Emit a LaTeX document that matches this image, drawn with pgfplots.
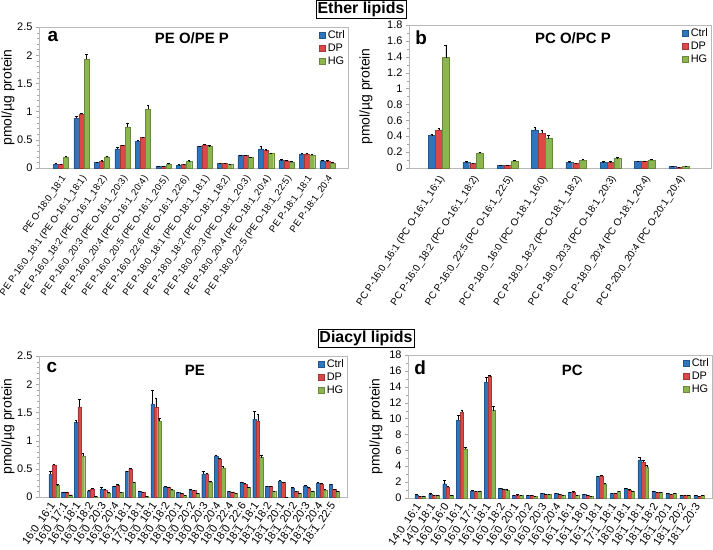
\documentclass[border=0pt]{standalone}
\usepackage{pgfplots}
\pgfplotsset{compat=1.18}
\usepackage{pgfplotstable}
\usepackage{fontspec}
\setmainfont{Liberation Sans}
\definecolor{cctrl}{RGB}{46,117,190}
\definecolor{cdp}{RGB}{218,72,72}
\definecolor{chg}{RGB}{140,181,80}

\pgfplotstableread{
x c ce d de h he
0 0.07 0.01 0.06 0.01 0.19 0.02
1 0.88 0.04 0.95 0.02 1.93 0.08
2 0.10 0.01 0.12 0.01 0.20 0.01
3 0.34 0.02 0.40 0.01 0.73 0.07
4 0.47 0.02 0.54 0.01 1.04 0.08
5 0.03 0.00 0.03 0.00 0.07 0.01
6 0.05 0.01 0.06 0.01 0.12 0.01
7 0.38 0.01 0.41 0.02 0.38 0.02
8 0.08 0.00 0.08 0.00 0.07 0.00
9 0.22 0.01 0.22 0.01 0.19 0.01
10 0.34 0.04 0.31 0.02 0.26 0.01
11 0.14 0.01 0.13 0.01 0.11 0.01
12 0.25 0.01 0.25 0.01 0.23 0.01
13 0.13 0.01 0.12 0.01 0.09 0.01
}\tA

\pgfplotstableread{
x c ce d de h he
0 0.41 0.01 0.48 0.02 1.39 0.16
1 0.07 0.01 0.06 0.00 0.19 0.01
2 0.03 0.01 0.03 0.01 0.09 0.01
3 0.48 0.03 0.44 0.03 0.37 0.04
4 0.07 0.01 0.06 0.00 0.10 0.01
5 0.07 0.01 0.07 0.01 0.12 0.01
6 0.08 0.00 0.08 0.00 0.10 0.01
7 0.02 0.00 0.005 0.00 0.02 0.00
}\tB

\pgfplotstableread{
x c ce d de h he
0 0.40 0.05 0.57 0.02 0.21 0.01
1 0.08 0.01 0.08 0.00 0.04 0.00
2 1.32 0.04 1.60 0.13 0.73 0.04
3 0.11 0.01 0.14 0.02 0.01 0.00
4 0.14 0.04 0.13 0.01 0.07 0.01
5 0.19 0.01 0.21 0.01 0.08 0.00
6 0.45 0.01 0.50 0.01 0.27 0.00
7 0.10 0.01 0.09 0.00 0.01 0.00
8 1.65 0.25 1.60 0.16 1.35 0.05
9 0.18 0.01 0.18 0.00 0.13 0.00
10 0.08 0.00 0.07 0.00 0.03 0.00
11 0.13 0.00 0.12 0.00 0.07 0.00
12 0.41 0.04 0.41 0.01 0.27 0.01
13 0.73 0.01 0.67 0.02 0.52 0.02
14 0.10 0.00 0.09 0.00 0.07 0.00
15 0.26 0.01 0.23 0.02 0.17 0.01
16 1.38 0.14 1.35 0.11 0.70 0.05
17 0.19 0.00 0.19 0.00 0.11 0.00
18 0.28 0.02 0.26 0.00 0.00 0.00
19 0.16 0.02 0.10 0.00 0.07 0.00
20 0.20 0.01 0.16 0.02 0.11 0.00
21 0.25 0.01 0.23 0.01 0.13 0.01
22 0.22 0.01 0.14 0.00 0.10 0.00
}\tC

\pgfplotstableread{
x c ce d de h he
0 0.4 0.05 0.2 0.02 0.2 0.02
1 0.5 0.05 0.3 0.02 0.3 0.02
2 1.8 0.4 1.4 0.1 0.3 0.05
3 9.8 0.6 10.8 0.3 6.2 0.2
4 0.9 0.05 0.85 0.05 0.85 0.05
5 14.6 0.6 15.3 0.1 11.0 0.5
6 1.2 0.05 1.1 0.05 1.0 0.05
7 0.35 0.03 0.4 0.03 0.3 0.02
8 0.35 0.03 0.35 0.02 0.25 0.02
9 0.6 0.05 0.5 0.03 0.5 0.03
10 0.6 0.05 0.5 0.03 0.3 0.02
11 0.7 0.05 0.75 0.05 0.35 0.02
12 0.45 0.03 0.35 0.02 0.25 0.02
13 2.7 0.1 2.8 0.1 1.8 0.1
14 0.6 0.03 0.6 0.03 0.8 0.03
15 1.2 0.05 1.0 0.05 0.85 0.05
16 4.8 0.3 4.5 0.2 3.9 0.2
17 0.8 0.03 0.7 0.03 0.7 0.03
18 0.55 0.03 0.5 0.03 0.55 0.03
19 0.35 0.02 0.3 0.02 0.35 0.02
20 0.3 0.02 0.25 0.02 0.3 0.02
}\tD

\tikzset{
  ttl/.style={font=\bfseries\fontsize{15}{18}\selectfont},
  box/.style={font=\bfseries\fontsize{16}{19}\selectfont},
  lbl/.style={font=\bfseries\fontsize{19}{22}\selectfont},
}
\pgfplotsset{
  panel/.style={
    scale only axis,
    ybar=0pt,
    ymin=0,
    axis line style={draw=gray!55},
    xtick=data,
    xtick style={draw=none},
    tick align=outside,
    ytick pos=left,
    ytick style={draw=gray!70},
    major tick length=3bp,
    minor tick length=2bp,
    yticklabel style={font=\fontsize{11}{12}\selectfont},
    /pgf/number format/assume math mode=true,
    ylabel={pmol/µg protein},
    ylabel style={font=\fontsize{14}{16}\selectfont},
    legend style={at={(1,1)}, anchor=north east, draw=none, fill=none,
      font=\fontsize{11}{12}\selectfont, row sep=0pt, inner sep=1pt},
    legend cell align=left,
    legend image code/.code={\fill[##1] (0bp,-3.2bp) rectangle (6.5bp,3.2bp);},
    clip=false,
  },
  ctrl/.style={fill=cctrl, draw=cctrl!75!black, line width=0.3pt},
  dp/.style={fill=cdp, draw=cdp!75!black, line width=0.3pt},
  hg/.style={fill=chg, draw=chg!75!black, line width=0.3pt},
  eb/.style={error bars/y dir=plus, error bars/y explicit,
    error bars/error bar style={black, line width=0.4pt},
    error bars/error mark options={black, rotate=90, mark size=1.3bp, line width=0.4pt}},
}

\begin{document}
\begin{tikzpicture}
\useasboundingbox (0,0) rectangle (713bp,550bp);

\node[draw, line width=0.8pt, inner sep=1.5pt, box] at (361bp,541bp) {Ether lipids};
\node[draw, line width=0.8pt, inner sep=1.5pt, box] at (366bp,211.5bp) {Diacyl lipids};

% Panel a
\begin{axis}[panel, at={(39bp,382bp)}, anchor=south west, width=309bp, height=141bp,
  xmin=-1.07, xmax=14.0, ymax=2.5, ytick={0,0.5,...,2.5}, minor y tick num=4,
  bar width=0.25, ylabel shift=-4bp, xticklabel shift=5bp,
  xticklabel style={xshift=4bp, rotate=55, anchor=east, font=\fontsize{9.5}{11}\selectfont, inner sep=1pt},
  xticklabels={{PE O-18:0\_18:1},{PE P-16:0\_18:1 (PE O-16:1\_18:1)},{PE P-16:0\_18:2 (PE O-16:1\_18:2)},{PE P-16:0\_20:3 (PE O-16:1\_20:3)},{PE P-16:0\_20:4 (PE O-16:1\_20:4)},{PE P-16:0\_20:5 (PE O-16:1\_20:5)},{PE P-16:0\_22:6 (PE O-16:1\_22:6)},{PE P-18:0\_18:1 (PE O-18:1\_18:1)},{PE P-18:0\_18:2 (PE O-18:1\_18:2)},{PE P-18:0\_20:3 (PE O-18:1\_20:3)},{PE P-18:0\_20:4 (PE O-18:1\_20:4)},{PE P-18:0\_22:5 (PE O-18:1\_22:5)},{PE P-18:1\_18:1},{PE P-18:1\_20:4}}]
\addplot[ctrl, eb] table[x=x, y=c, y error=ce] {\tA};
\addplot[dp, eb] table[x=x, y=d, y error=de] {\tA};
\addplot[hg, eb] table[x=x, y=h, y error=he] {\tA};
\legend{Ctrl,DP,HG}
\node[ttl] at (rel axis cs:0.495,0.92) {PE O/PE P};
\node[lbl] at (rel axis cs:0.045,0.93) {a};
\end{axis}

% Panel b
\begin{axis}[panel, at={(409bp,382bp)}, anchor=south west, width=302bp, height=143bp,
  xmin=-0.87, xmax=7.93, ymax=1.8, ytick={0,0.2,...,1.8}, minor y tick num=1,
  bar width=0.2, ylabel shift=8bp, xticklabel shift=5bp,
  xticklabel style={xshift=4bp, rotate=57, anchor=east, font=\fontsize{10}{11}\selectfont, inner sep=1pt},
  xticklabels={{PC P-16:0\_16:1 (PC O-16:1\_16:1)},{PC P-16:0\_18:2 (PC O-16:1\_18:2)},{PC P-16:0\_22:5 (PC O-16:1\_22:5)},{PC P-18:0\_16:0 (PC O-18:1\_16:0)},{PC P-18:0\_18:2 (PC O-18:1\_18:2)},{PC P-18:0\_20:3 (PC O-18:1\_20:3)},{PC P-18:0\_20:4 (PC O-18:1\_20:4)},{PC P-20:0\_20:4 (PC O-20:1\_20:4)}}]
\addplot[ctrl, eb] table[x=x, y=c, y error=ce] {\tB};
\addplot[dp, eb] table[x=x, y=d, y error=de] {\tB};
\addplot[hg, eb] table[x=x, y=h, y error=he] {\tB};
\legend{Ctrl,DP,HG}
\node[ttl] at (rel axis cs:0.543,0.91) {PC O/PC P};
\node[lbl] at (rel axis cs:0.04,0.91) {b};
\end{axis}

% Panel c
\begin{axis}[panel, at={(39bp,53bp)}, anchor=south west, width=308bp, height=141bp,
  xmin=-1.18, xmax=23.0, ymax=2.5, ytick={0,0.5,...,2.5}, minor y tick num=4,
  bar width=0.27, ylabel shift=-4bp, xticklabel shift=3bp,
  xticklabel style={rotate=55, anchor=east, font=\fontsize{11}{12}\selectfont, inner sep=1pt},
  xticklabels={{16:0\_16:1},{16:0\_17:1},{16:0\_18:1},{16:0\_18:2},{16:0\_20:3},{16:0\_20:4},{16:1\_18:1},{17:0\_18:1},{18:0\_18:1},{18:0\_18:2},{18:0\_20:1},{18:0\_20:2},{18:0\_20:3},{18:0\_20:4},{18:0\_22:4},{18:0\_22:6},{18:1\_18:1},{18:1\_18:2},{18:1\_20:1},{18:1\_20:2},{18:1\_20:3},{18:1\_20:4},{18:1\_22:5}}]
\addplot[ctrl, eb] table[x=x, y=c, y error=ce] {\tC};
\addplot[dp, eb] table[x=x, y=d, y error=de] {\tC};
\addplot[hg, eb] table[x=x, y=h, y error=he] {\tC};
\legend{Ctrl,DP,HG}
\node[ttl] at (rel axis cs:0.506,0.90) {PE};
\node[lbl] at (rel axis cs:0.042,0.92) {c};
\end{axis}

% Panel d
\begin{axis}[panel, at={(408bp,52bp)}, anchor=south west, width=304bp, height=143bp,
  xmin=-0.86, xmax=20.93, ymax=18, ytick={0,2,...,18}, minor y tick num=1,
  bar width=0.25, xticklabel shift=3bp,
  xticklabel style={rotate=55, anchor=east, font=\fontsize{11}{12}\selectfont, inner sep=1pt},
  xticklabels={{14:0\_16:1},{14:0\_18:1},{16:0\_16:0},{16:0\_16:1},{16:0\_17:1},{16:0\_18:1},{16:0\_18:2},{16:0\_20:1},{16:0\_20:2},{16:0\_20:3},{16:0\_20:4},{16:1\_16:1},{16:1\_18:0},{16:1\_18:1},{17:1\_18:1},{18:0\_18:1},{18:1\_18:1},{18:1\_18:2},{18:1\_20:1},{18:1\_20:2},{18:1\_20:3}}]
\addplot[ctrl, eb] table[x=x, y=c, y error=ce] {\tD};
\addplot[dp, eb] table[x=x, y=d, y error=de] {\tD};
\addplot[hg, eb] table[x=x, y=h, y error=he] {\tD};
\legend{Ctrl,DP,HG}
\node[ttl] at (rel axis cs:0.54,0.895) {PC};
\node[lbl] at (rel axis cs:0.04,0.91) {d};
\end{axis}
\end{tikzpicture}
\end{document}
